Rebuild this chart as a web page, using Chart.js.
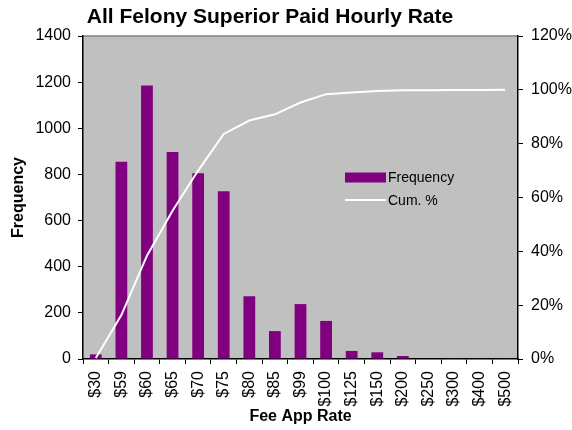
<!DOCTYPE html>
<html>
<head>
<meta charset="utf-8">
<script src="https://cdn.jsdelivr.net/npm/chart.js@4/dist/chart.umd.min.js"></script>
<style>
  html, body { margin: 0; padding: 0; background: #fff; }
  #wrap { width: 572px; height: 430px; position: relative; }
</style>
</head>
<body>
<div id="wrap"><canvas id="rateChart"></canvas></div>
<script>
// Hourly rate buckets and counts
const rateLabels = ['$30', '$59', '$60', '$65', '$70', '$75', '$80', '$85', '$99', '$100', '$125', '$150', '$200', '$250', '$300', '$400', '$500'];
const frequency = [20, 855, 1185, 897, 805, 727, 272, 121, 238, 165, 35, 29, 13, 0, 3, 3, 3];
const cumPercent = [0.4, 16.3, 38.4, 55.1, 70.0, 83.6, 88.6, 90.9, 95.3, 98.4, 99.0, 99.6, 99.8, 99.8, 99.9, 99.9, 100];

const FONT = "'Liberation Sans', Arial, sans-serif";
const BAR_COLOR = '#800080';

// gray plot background + chart title + in-plot legend
const decor = {
  id: 'decor',
  beforeDraw(chart) {
    const { ctx, chartArea: a } = chart;
    ctx.save();
    ctx.fillStyle = '#C0C0C0';
    ctx.fillRect(a.left, a.top, a.right - a.left, a.bottom - a.top);
    ctx.strokeStyle = '#808080';
    ctx.lineWidth = 1.5;
    ctx.beginPath();
    ctx.moveTo(a.left, a.top);
    ctx.lineTo(a.right, a.top);
    ctx.stroke();
    ctx.restore();
  },
  afterDraw(chart) {
    const ctx = chart.ctx;
    ctx.save();
    ctx.fillStyle = '#000';
    ctx.font = 'bold 21px ' + FONT;
    ctx.textAlign = 'center';
    ctx.textBaseline = 'alphabetic';
    ctx.fillText('All Felony Superior Paid Hourly Rate', 270, 23);

    // legend
    ctx.fillStyle = BAR_COLOR;
    ctx.fillRect(345, 172.5, 41, 10);
    ctx.strokeStyle = '#fff';
    ctx.lineWidth = 2;
    ctx.beginPath();
    ctx.moveTo(345, 200);
    ctx.lineTo(386, 200);
    ctx.stroke();
    ctx.fillStyle = '#000';
    ctx.font = '14px ' + FONT;
    ctx.textAlign = 'left';
    ctx.textBaseline = 'middle';
    ctx.fillText('Frequency', 388, 178);
    ctx.fillText('Cum. %', 388, 201);
    ctx.restore();
  }
};

const axisGrid = { drawOnChartArea: false, drawTicks: true, tickLength: 5, color: '#000' };
const axisBorder = { color: '#000', width: 1.5 };

new Chart(document.getElementById('rateChart').getContext('2d'), {
  data: {
    labels: rateLabels,
    datasets: [{
      type: 'line',
      label: 'Cum. %',
      data: cumPercent,
      yAxisID: 'y2',
      borderColor: '#FFFFFF',
      borderWidth: 2,
      pointRadius: 0,
      tension: 0,
      order: 0
    }, {
      type: 'bar',
      label: 'Frequency',
      data: frequency,
      yAxisID: 'y',
      backgroundColor: BAR_COLOR,
      borderWidth: 0,
      barPercentage: 0.46,
      categoryPercentage: 1,
      order: 1
    }]
  },
  options: {
    responsive: true,
    maintainAspectRatio: false,
    animation: false,
    layout: { padding: { top: 36, left: 0, right: 0, bottom: 0 } },
    plugins: {
      legend: { display: false },
      tooltip: { enabled: false }
    },
    scales: {
      x: {
        offset: true,
        grid: { ...axisGrid, offset: true },
        border: axisBorder,
        ticks: {
          color: '#000',
          font: { family: FONT, size: 16 },
          minRotation: 90,
          maxRotation: 90,
          padding: 7,
          autoSkip: false
        },
        title: {
          display: true,
          text: 'Fee App Rate',
          color: '#000',
          font: { family: FONT, size: 16, weight: 'bold' },
          padding: { top: 0, bottom: 4 }
        },
        afterFit(s) { s.height = 71; }
      },
      y: {
        position: 'left',
        min: 0,
        max: 1400,
        grid: axisGrid,
        border: axisBorder,
        ticks: {
          stepSize: 200,
          color: '#000',
          font: { family: FONT, size: 16 },
          padding: 7,
          callback: v => String(v)
        },
        title: {
          display: true,
          text: 'Frequency',
          color: '#000',
          font: { family: FONT, size: 16, weight: 'bold' },
          padding: { top: 9, bottom: 0 }
        },
        afterFit(s) { s.width = 83; }
      },
      y2: {
        position: 'right',
        min: 0,
        max: 120,
        grid: axisGrid,
        border: axisBorder,
        ticks: {
          stepSize: 20,
          color: '#000',
          font: { family: FONT, size: 16 },
          padding: 8,
          callback: v => v + '%'
        },
        afterFit(s) { s.width = 54; }
      }
    }
  },
  plugins: [decor]
});
</script>
</body>
</html>
